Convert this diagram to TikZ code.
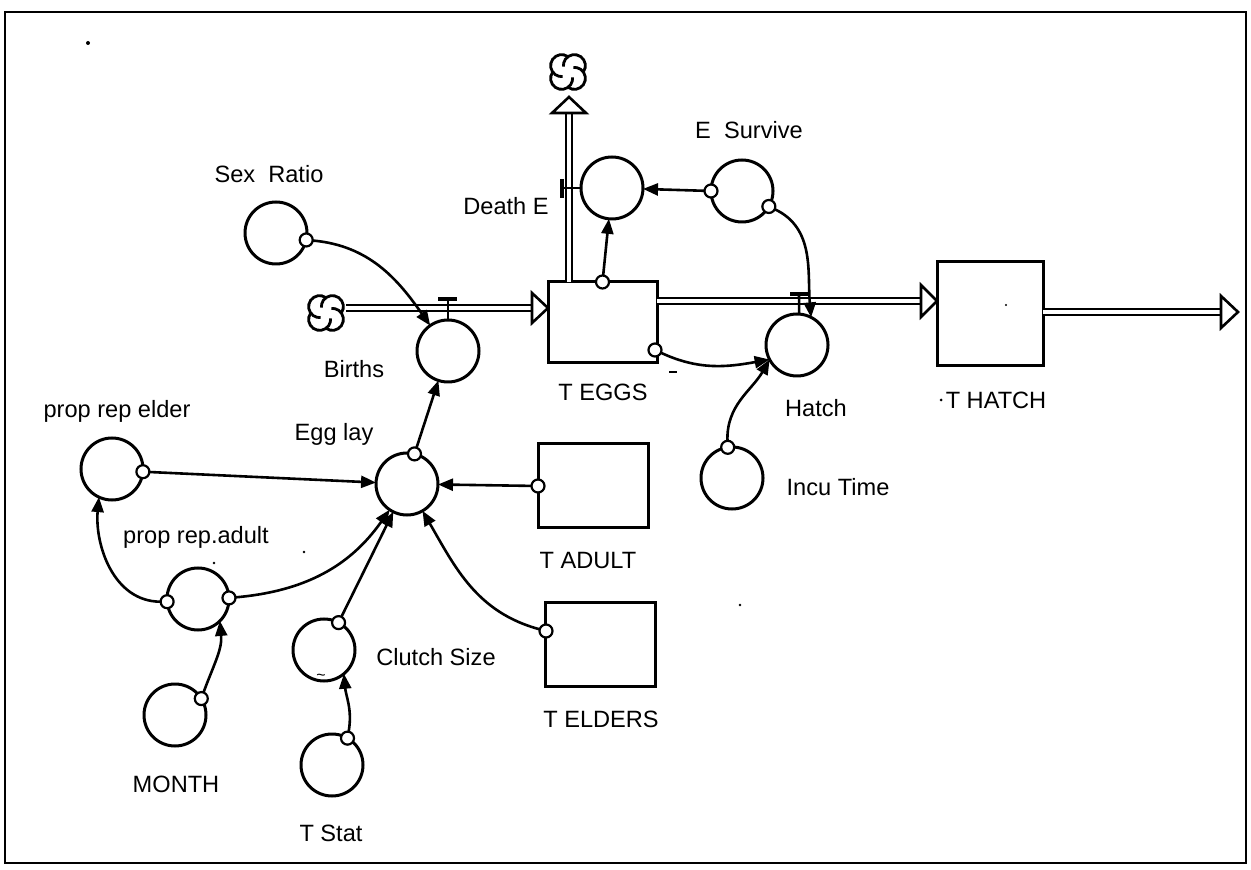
\documentclass[tikz,border=0pt]{standalone}
\usepackage{fontspec}
\setmainfont{Liberation Sans}
\usetikzlibrary{arrows.meta,calc}
\begin{document}
\begin{tikzpicture}[x=0.5pt,y=0.5pt,
  every node/.style={inner sep=0pt, outer sep=0pt},
  aux/.style={circle, draw, line width=1.5pt, minimum size=31pt},
  stock/.style={rectangle, draw, line width=1.5pt},
  flag/.style={circle, draw, line width=1.1pt, fill=white, minimum size=6.5pt},
  lbl/.style={font=\fontsize{11.8}{13}\selectfont},
  conn/.style={line width=1.3pt, -{Triangle[length=7.5pt,width=6pt]}},
  pipe/.style={double, double distance=1.8pt, line width=1.2pt},
  head/.style={draw, line width=1.3pt, fill=white, line join=miter},
  bar/.style={line width=1.8pt},
  speck/.style={fill=black},
  stcloud/.pic={
    \foreach \a in {45,135,225,315}{
      \draw[line width=1.4pt] ($(\a:9)+(\a-80:11)$) arc[start angle=\a-80, end angle=\a+140, radius=11];
    }
  }
]
\useasboundingbox (0,0) rectangle (1251,-870);
\draw[line width=1pt] (5,-12) rectangle (1246,-863);

% scan specks
\fill[speck] (88,-43) circle (2);
\fill[speck] (214,-563) circle (1.3);
\fill[speck] (304,-552) circle (1.3);
\fill[speck] (740,-605) circle (1.3);
\fill[speck] (941,-400) circle (1.5);
\fill[speck] (1006,-305) circle (1.2);

% clouds
\node[minimum size=20pt] (tcloud) at (568,-72) {};
\pic at (tcloud) {stcloud};
\node[minimum size=20pt] (bcloud) at (326,-313) {};
\pic at (bcloud) {stcloud};

% stocks
\node[stock, minimum width=54.5pt, minimum height=40.5pt] (teggs) at (602.5,-322.5) {};
\node[stock, minimum width=53pt, minimum height=52pt] (thatch) at (990,-314) {};
\node[stock, minimum width=55pt, minimum height=42pt] (tadult) at (593,-486) {};
\node[stock, minimum width=55pt, minimum height=42pt] (telders) at (600,-644) {};

% flow pipes
\coordinate (tinE) at (548,-308);
\draw[pipe] (bcloud.east |- tinE) -- ($(tinE)+(-16,0)$);
\draw[head] (tinE) -- ++(-16,15) -- ++(0,-30) -- cycle;

\coordinate (dtop) at (569,-97);
\draw[pipe] (teggs.north -| dtop) -- ($(dtop)+(0,-16)$);
\draw[head] (dtop) -- ++(-17,-16) -- ++(34,0) -- cycle;

\coordinate (tinH) at (937,-301);
\draw[pipe] (teggs.east |- tinH) -- ($(tinH)+(-16,0)$);
\draw[head] (tinH) -- ++(-16,16) -- ++(0,-32) -- cycle;

\coordinate (tout) at (1238,-312);
\draw[pipe] (thatch.east |- tout) -- ($(tout)+(-17,0)$);
\draw[head] (tout) -- ++(-17,16) -- ++(0,-32) -- cycle;

% auxiliaries / converters
\node[aux] (sr) at (276,-233) {};
\node[aux] (de) at (612,-188) {};
\node[aux] (es) at (742,-191) {};
\node[aux] (births) at (448,-351) {};
\node[aux] (hatch) at (797,-345) {};
\node[aux] (ic) at (732,-478) {};
\node[aux] (pre) at (112,-469) {};
\node[aux] (egg) at (407,-484) {};
\node[aux] (prA) at (198,-599) {};
\node[aux] (clutch) at (324,-650) {};
\node[aux] (mo) at (175,-715) {};
\node[aux] (ts) at (332,-765) {};

% valves
\draw[bar] (438,-299) -- (457,-299);
\draw[line width=1.3pt] (448,-299) -- (births.north);
\draw[bar] (790,-294) -- (808,-294);
\draw[line width=1.3pt] (799,-294) -- (hatch.86);
\draw[bar] (562,-179) -- (562,-198);
\draw[line width=1.3pt] (562,-188) -- (de.west);

% flags
\node[flag] (srf) at (sr.-13) {};
\node[flag] (esf1) at (es.180) {};
\node[flag] (esf2) at (es.-30) {};
\node[flag] (tef1) at (teggs.north) {};
\node[flag] (tef2) at ($(teggs.south east)+(-2,13)$) {};
\node[flag] (pref) at (pre.-5) {};
\node[flag] (eggf) at (egg.76) {};
\node[flag] (tadf) at (tadult.west) {};
\node[flag] (prAf1) at (prA.185) {};
\node[flag] (prAf2) at (prA.2) {};
\node[flag] (clf) at (clutch.62) {};
\node[flag] (tsf) at (ts.60) {};
\node[flag] (mof) at (mo.32) {};
\node[flag] (telf) at ($(telders.west)+(1,13)$) {};
\node[flag] (icf) at (ic.98) {};

% connectors
\draw[conn] (srf) to[out=-5,in=125] (births.125);
\draw[conn] (esf1) -- (de);
\draw[conn] (tef1) -- (de);
\draw[conn] (esf2) to[out=-25,in=95] (hatch.63);
\draw[conn] (tef2) to[out=-25,in=190] (hatch.208);
\draw[conn] (icf) to[out=92,in=240] (hatch.208);
\draw[conn] (eggf) -- (births);
\draw[conn] (pref) -- (egg);
\draw[conn] (tadf) -- (egg);
\draw[conn] (clf) -- (egg);
\draw[conn] (prAf2) to[out=5,in=235] (egg.236);
\draw[conn] (telf) to[out=165,in=-60] (egg.300);
\draw[conn] (prAf1) to[out=180,in=-95] (pre.245);
\draw[conn] (mof) to[out=70,in=-85] (prA.-45);
\draw[conn] (tsf) to[out=80,in=-85] (clutch.-50);

% small marks
\draw[line width=1pt] (669,-372) -- (677,-372);
\node[font=\fontsize{8}{8}\selectfont] (tilde) at (321,-677) {\textasciitilde};

% labels
\node[lbl] (lsr) at (269,-174) {Sex\ \ Ratio};
\node[lbl] (lde) at (506,-206) {Death E};
\node[lbl] (les) at (749,-130) {E\ \ Survive};
\node[lbl] (lbi) at (354,-369) {Births};
\node[lbl] (lte) at (603,-392) {T EGGS};
\node[lbl] (lha) at (816,-408) {Hatch};
\node[lbl] (lic) at (838,-487) {Incu Time};
\node[lbl] (lth) at (996,-400) {T HATCH};
\node[lbl] (lpe) at (117,-411) {prop rep elder};
\node[lbl] (leg) at (334,-434) {Egg lay};
\node[lbl] (lpa) at (196,-537) {prop rep.adult};
\node[lbl] (lta) at (588,-560) {T ADULT};
\node[lbl] (lcs) at (436,-657) {Clutch Size};
\node[lbl] (ltel) at (601,-719) {T ELDERS};
\node[lbl] (lmo) at (176,-784) {MONTH};
\node[lbl] (lts) at (331,-833) {T Stat};
\end{tikzpicture}
\end{document}
